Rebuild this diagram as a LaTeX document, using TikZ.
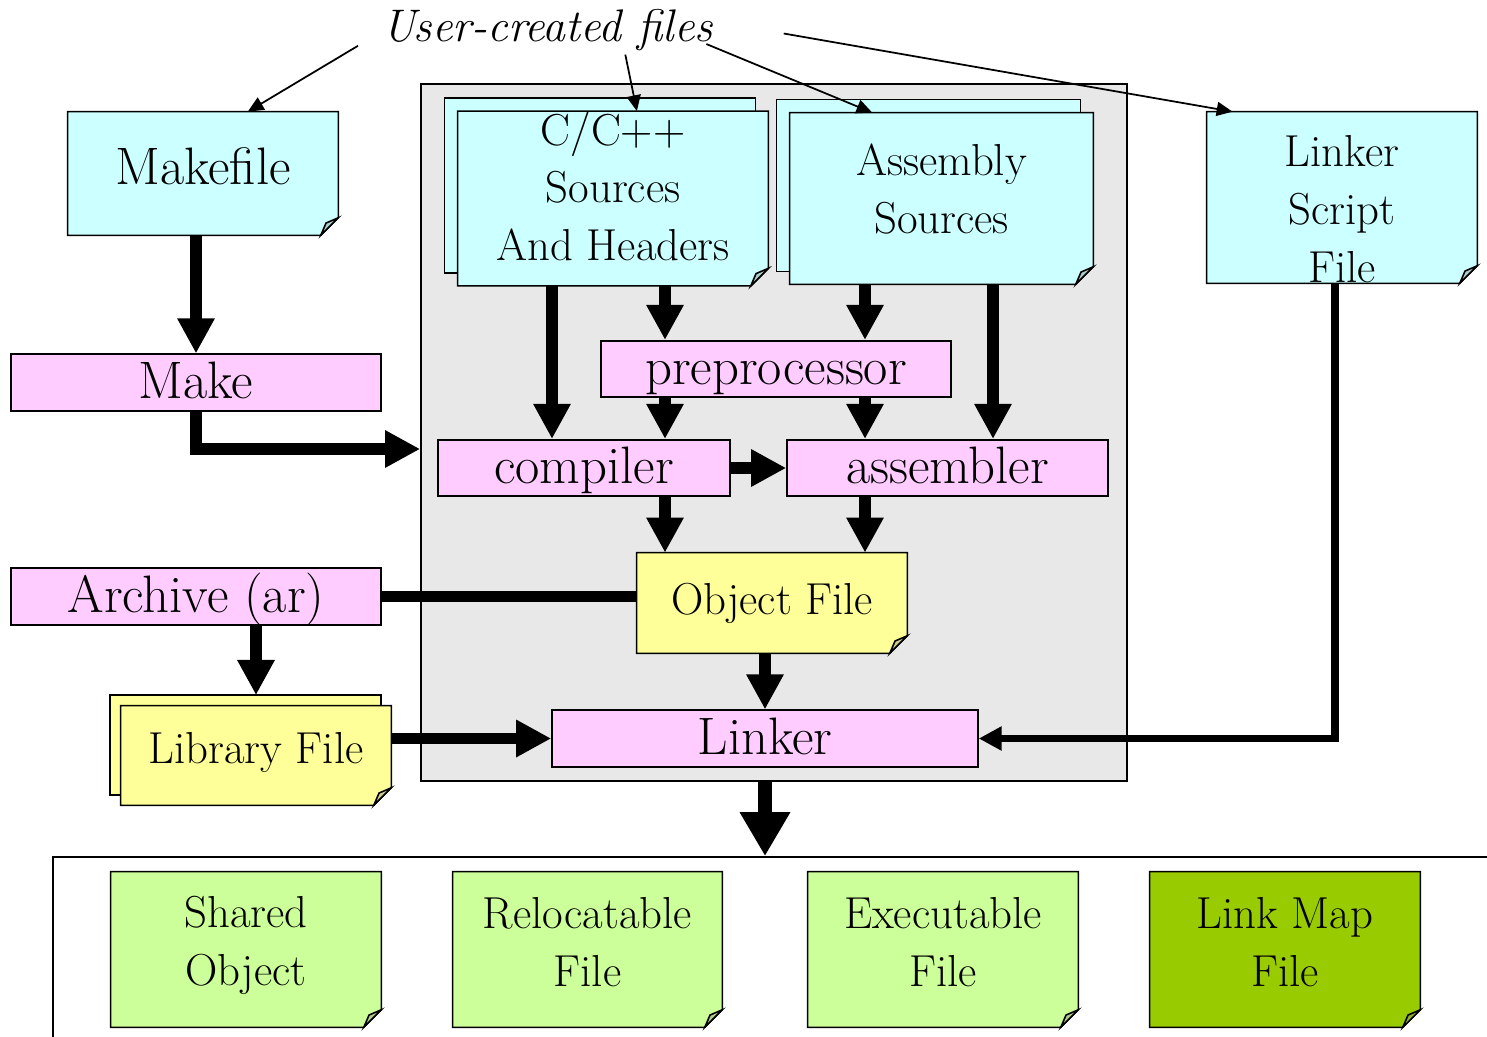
\documentclass[tikz,border=0pt]{standalone}
\usepackage{tikz}
\usetikzlibrary{arrows.meta,calc}
\pgfdeclarelayer{background}
\pgfsetlayers{background,main}

\definecolor{srccyan}{HTML}{CCFFFF}
\definecolor{toolpink}{HTML}{FFCCFF}
\definecolor{objyellow}{HTML}{FFFF99}
\definecolor{outgreen}{HTML}{CCFF99}
\definecolor{mapgreen}{HTML}{99CC00}
\definecolor{panelgray}{HTML}{E8E8E8}

\newcommand{\bigfont}{\fontsize{30}{36}\selectfont}
\newcommand{\midfont}{\fontsize{25.5}{33}\selectfont}
% extra room above the first line / below the last line of a label
\newcommand{\headroom}[1]{\rule{0pt}{#1}}
\newcommand{\footroom}[1]{\rule[-#1]{0pt}{0pt}}

% sheet of paper with a dog-ear, drawn behind node #1
\newcommand{\sheet}[2]{%
  \begin{pgfonlayer}{background}
    \draw[outline, fill=#2] (#1.north west) -- (#1.north east) -- ([yshift=10pt]#1.south east)
      -- ([xshift=-10pt]#1.south east) -- (#1.south west) -- cycle;
    \draw[outline, fill=#2!60!gray] ([xshift=-10pt]#1.south east)
      -- ([shift={(-7pt,7pt)}]#1.south east) -- ([yshift=10pt]#1.south east) -- cycle;
  \end{pgfonlayer}}
% second sheet peeking out behind node #1, offset by #3
\newcommand{\backsheet}[3]{%
  \begin{pgfonlayer}{background}
    \draw[outline, fill=#2] ([shift={(-#3,#3)}]#1.north west) rectangle ([shift={(-#3,#3)}]#1.south east);
  \end{pgfonlayer}}

\tikzset{
  outline/.style={line width=0.9pt},
  tool/.style={draw, line width=0.9pt, fill=toolpink, inner sep=0pt, minimum height=1.13cm,
    text height=23pt, text depth=5pt, font=\bigfont},
  paper/.style={inner sep=0pt, align=center, font=\midfont},
  flow/.style={line width=6.3pt, -{Triangle[length=20pt,width=20pt]}},
  link/.style={line width=6.3pt},
  feed/.style={line width=4pt, -{Triangle[length=13pt,width=13pt]}},
  result/.style={line width=8pt, -{Triangle[length=25pt,width=27pt]}},
  note/.style={line width=1pt, -{Triangle[length=9pt,width=8pt]}}
}

\begin{document}
\begin{tikzpicture}[x=0.02cm, y=-0.02cm]
  \useasboundingbox (0,0) rectangle (1487,1037);

  % grey panel round the tool chain
  \begin{pgfonlayer}{background}
    \node[draw, line width=1pt, fill=panelgray, minimum width=14.12cm, minimum height=13.94cm] (toolchain) at (774,432.5) {};
  \end{pgfonlayer}

  % frame of the outputs, open at right and bottom
  \node[draw, line width=1pt, minimum width=29.74cm, minimum height=4.66cm] (outputs) at (796.5,973.5) {};

  \node[font=\fontsize{26}{30}\selectfont\itshape, inner sep=2pt] (user) at (548,30) {User-created files};

  % sources
  \node[paper, font=\bigfont, minimum width=5.4cm, minimum height=2.46cm] (makefile) at (203,173.5) {Makefile\footroom{9pt}};
  \node[paper, minimum width=6.2cm, minimum height=3.42cm] (csrc) at (613,198.5) {C/C++\\Sources\\And Headers\footroom{14pt}};
  \node[paper, minimum width=6.06cm, minimum height=3.42cm] (asmsrc) at (941.5,198.5) {Assembly\\Sources\footroom{11pt}};
  \node[paper, minimum width=5.4cm, minimum height=3.42cm] (ldscript) at (1342,197.5) {\headroom{31pt}Linker\\Script\\File};
  \sheet{makefile}{srccyan}
  \backsheet{csrc}{srccyan}{7.4pt}
  \sheet{csrc}{srccyan}
  \backsheet{asmsrc}{srccyan}{7.4pt}
  \sheet{asmsrc}{srccyan}
  \sheet{ldscript}{srccyan}

  % tools
  \node[tool, minimum width=7.4cm] (make) at (196,382.5) {Make};
  \node[tool, minimum width=7cm] (cpp) at (776,369) {preprocessor};
  \node[tool, minimum width=5.84cm] (cc) at (584,468) {compiler};
  \node[tool, minimum width=6.42cm] (as) at (947.5,468) {assembler};
  \node[tool, minimum width=7.4cm] (ar) at (196,596.5) {Archive (ar)};
  \node[tool, minimum width=8.52cm] (ld) at (765,738.5) {Linker};

  % intermediate files
  \node[paper, minimum width=5.4cm, minimum height=2cm] (obj) at (772,603) {Object File};
  \node[paper, minimum width=5.4cm, minimum height=1.98cm] (lib) at (256,755.5) {Library File\footroom{9pt}};
  \sheet{obj}{objyellow}
  \backsheet{lib}{objyellow}{6pt}
  \sheet{lib}{objyellow}

  % outputs
  \node[paper, minimum width=5.4cm, minimum height=3.1cm] (shared) at (246,949.5) {Shared\\Object\footroom{10pt}};
  \node[paper, minimum width=5.38cm, minimum height=3.1cm] (reloc) at (587.5,949.5) {Relocatable\\File\footroom{9pt}};
  \node[paper, minimum width=5.4cm, minimum height=3.1cm] (exec) at (943,949.5) {Executable\\File\footroom{9pt}};
  \node[paper, minimum width=5.4cm, minimum height=3.1cm] (linkmap) at (1285,949.5) {Link Map\\File\footroom{9pt}};
  \sheet{shared}{outgreen}
  \sheet{reloc}{outgreen}
  \sheet{exec}{outgreen}
  \sheet{linkmap}{mapgreen}

  % pointers from the caption
  \draw[note] ([shift={(-12pt,-9pt)}]user.west) -- ([xshift=25.5pt]makefile.north);
  \draw[note] ([xshift=44pt]user.south) -- ([xshift=13.6pt]csrc.north);
  \draw[note] ([shift={(-6pt,-8pt)}]user.east) -- ([xshift=-39.4pt]asmsrc.north);
  \draw[note] ([shift={(38pt,-2pt)}]user.east) -- ([xshift=14.7pt]ldscript.north west);

  % build flow
  \draw[flow] (makefile.south -| make.north) -- (make.north);
  \draw[flow] (make.south) |- (toolchain.west |- 0,449);
  \draw[flow] (csrc.south -| 552,0) -- (cc.north -| 552,0);
  \draw[flow] (csrc.south -| 665,0) -- (cpp.north -| 665,0);
  \draw[flow] (asmsrc.south -| 865,0) -- (cpp.north -| 865,0);
  \draw[flow] (asmsrc.south -| 993,0) -- (as.north -| 993,0);
  \draw[flow] (cpp.south -| 665,0) -- (cc.north -| 665,0);
  \draw[flow] (cpp.south -| 865,0) -- (as.north -| 865,0);
  \draw[flow] (cc.east) -- (as.west);
  \draw[flow] (cc.south -| 665,0) -- (obj.north -| 665,0);
  \draw[flow] (as.south -| 865,0) -- (obj.north -| 865,0);
  \draw[flow] (obj.south -| ld.north) -- (ld.north);
  \draw[link] (ar.east) -- (ar.east -| obj.west);
  \draw[flow] (ar.south -| lib.north) -- ([yshift=6pt]lib.north);
  \draw[flow] (lib.east |- ld.west) -- (ld.west);
  \draw[feed] ([xshift=-4pt]ldscript.south) |- (ld.east);
  \draw[result] (ld.south |- toolchain.south) -- (ld.south |- outputs.north);
\end{tikzpicture}
\end{document}
